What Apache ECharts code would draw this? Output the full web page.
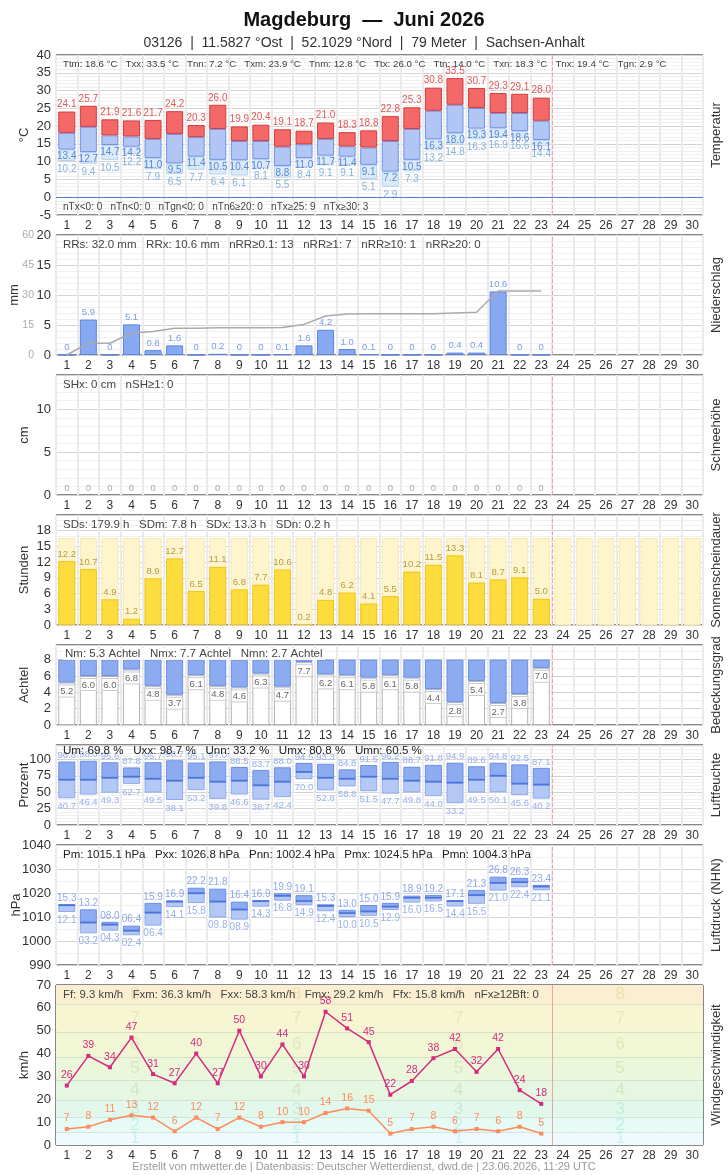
<!DOCTYPE html>
<html><head><meta charset="utf-8">
<script src="https://cdn.jsdelivr.net/npm/echarts@6/dist/echarts.min.js"></script>
<style>html,body{margin:0;padding:0;background:#fff}#c{width:728px;height:1175px}</style>
</head><body><div id="c"></div><script>
// ---------- DATA ----------
const days = ['1','2','3','4','5','6','7','8','9','10','11','12','13','14','15','16','17','18','19','20','21','22','23','24','25','26','27','28','29','30'];
const tMax    = [24.1,25.7,21.9,21.6,21.7,24.2,20.3,26.0,19.9,20.4,19.1,18.7,21.0,18.3,18.8,22.8,25.3,30.8,33.5,30.7,29.3,29.1,28.0];
const tMean   = [18.1,19.8,17.4,17.1,16.4,17.8,16.9,19.2,15.8,15.8,14.2,14.9,16.4,14.3,14.0,15.8,19.2,24.3,26.0,25.1,23.7,23.7,21.5];
const tMin    = [13.4,12.7,14.7,14.2,11.0,9.5,11.4,10.5,10.4,10.7,8.8,11.0,11.7,11.4,9.1,7.2,10.5,16.3,18.0,19.3,19.4,18.6,16.1];
const tGround = [10.2,9.4,10.5,12.2,7.9,6.5,7.7,6.4,6.1,8.1,5.5,8.4,9.1,9.1,5.1,2.9,7.3,13.2,14.8,16.3,16.9,16.6,14.4];
const precip  = [0,5.9,0,5.1,0.8,1.6,0,0.2,0,0,0.1,1.6,4.2,1.0,0.1,0,0,0,0.4,0.4,10.6,0,0];
const snow    = [0,0,0,0,0,0,0,0,0,0,0,0,0,0,0,0,0,0,0,0,0,0,0];
const sun     = [12.2,10.7,4.9,1.2,8.9,12.7,6.5,11.1,6.8,7.7,10.6,0.2,4.8,6.2,4.1,5.5,10.2,11.5,13.3,8.1,8.7,9.1,5.0];
const sunPossible = [16.6,16.6,16.6,16.6,16.6,16.6,16.6,16.6,16.6,16.6,16.6,16.6,16.6,16.6,16.6,16.6,16.6,16.6,16.6,16.6,16.6,16.6,16.6,16.6,16.6,16.6,16.6,16.6,16.6,16.6];
const cloud   = [5.2,6.0,6.0,6.8,4.8,3.7,6.1,4.8,4.6,6.3,4.7,7.7,6.2,6.1,5.8,6.1,5.8,4.4,2.8,5.4,2.7,3.8,7.0];
const humMax  = [96.8,98.0,95.6,87.8,95.7,98.7,95.1,97.0,88.5,83.7,88.0,94.5,93.3,84.8,91.5,96.2,88.7,91.8,94.9,89.6,94.8,92.5,87.1];
const humMean = [69.0,69.0,72.0,73.6,70.5,67.5,72.0,66.0,67.5,60.5,66.0,80.8,72.0,70.5,73.6,70.5,67.5,66.0,64.5,69.0,75.0,63.0,61.5];
const humMin  = [40.7,46.4,49.3,62.7,49.5,38.1,53.2,39.8,46.6,38.7,42.4,70.0,52.8,58.8,51.5,47.7,49.8,44.0,33.2,49.5,50.1,45.6,40.2];
const presMax = [1015.3,1013.2,1008.0,1006.4,1015.9,1016.9,1022.2,1021.8,1016.4,1016.9,1019.9,1019.1,1015.3,1013.0,1015.0,1015.9,1018.9,1019.2,1017.1,1021.3,1026.8,1026.3,1023.4];
const presMean= [1014.9,1007.7,1006.8,1004.3,1011.8,1016.4,1019.9,1016.4,1013.1,1016.6,1018.8,1016.6,1014.6,1011.6,1012.3,1014.3,1018.0,1018.0,1016.6,1019.1,1024.2,1024.5,1022.7];
const presMin = [1012.1,1003.2,1004.3,1002.4,1006.4,1014.1,1015.8,1009.8,1008.9,1014.3,1016.8,1014.9,1012.4,1010.0,1010.5,1012.9,1016.0,1016.5,1014.4,1015.5,1021.0,1022.4,1021.1];
const gust    = [26,39,34,47,31,27,40,27,50,30,44,30,58.3,51,45,22,28,38,42,32,42,24,18];
const windMean= [7,8,11,13,12,6,12,7,12,8,10,10,14,16,15,5,7,8,6,7,6,8,5];
const beaufortEdges = [0,5.5,12,19.5,28.5,38.5,49.5,61.5,70];
const beaufortNumbers = ['1','2','3','4','5','6','7','8'];
const beaufortLabelX = [3.66,11.16,18.66,26.16];
const lastDay = 23;

const statsTemp = 'Ttm: 18.6 °C   Txx: 33.5 °C   Tnn: 7.2 °C   Txm: 23.9 °C   Tnm: 12.8 °C   Ttx: 26.0 °C   Ttn: 14.0 °C   Txn: 18.3 °C   Tnx: 19.4 °C   Tgn: 2.9 °C';
const statsTemp2 = 'nTx<0: 0   nTn<0: 0   nTgn<0: 0   nTn6≥20: 0   nTx≥25: 9   nTx≥30: 3';
const statsPrec = 'RRs: 32.0 mm   RRx: 10.6 mm   nRR≥0.1: 13   nRR≥1: 7   nRR≥10: 1   nRR≥20: 0';
const statsSnow = 'SHx: 0 cm   nSH≥1: 0';
const statsSun = 'SDs: 179.9 h   SDm: 7.8 h   SDx: 13.3 h   SDn: 0.2 h';
const statsCloud = 'Nm: 5.3 Achtel   Nmx: 7.7 Achtel   Nmn: 2.7 Achtel';
const statsHum = 'Um: 69.8 %   Uxx: 98.7 %   Unn: 33.2 %   Umx: 80.8 %   Umn: 60.5 %';
const statsPres = 'Pm: 1015.1 hPa   Pxx: 1026.8 hPa   Pnn: 1002.4 hPa   Pmx: 1024.5 hPa   Pmn: 1004.3 hPa';
const statsWind = 'Ff: 9.3 km/h   Fxm: 36.3 km/h   Fxx: 58.3 km/h   Fmx: 29.2 km/h   Ffx: 15.8 km/h   nFx≥12Bft: 0';

// ---------- LAYOUT ----------
const NARROW = '"Liberation Sans Narrow","Liberation Sans",Arial,sans-serif';
const SANS = '"Liberation Sans",Arial,sans-serif';
const L = 56, W = 647;
const panels = [
  {top:55,h:160,ymin:-5,ymax:40,iv:5,minor:5,name:'°C',gap:25,right:'Temperatur',maxLbl:true},
  {top:235,h:120,ymin:0,ymax:20,iv:5,minor:5,name:'mm',gap:35,right:'Niederschlag',maxLbl:true},
  {top:375,h:120,ymin:0,ymax:14,iv:5,minor:5,name:'cm',gap:25,right:'Schneehöhe',maxLbl:false},
  {top:515,h:110,ymin:0,ymax:21,iv:3,minor:3,name:'Stunden',gap:25,right:'Sonnenscheindauer',maxLbl:false},
  {top:645,h:80,ymin:0,ymax:9.8,iv:2,minor:2,name:'Achtel',gap:25,right:'Bedeckungsgrad',maxLbl:false},
  {top:745,h:80,ymin:0,ymax:122,iv:25,minor:5,name:'Prozent',gap:25,right:'Luftfeuchte',maxLbl:false},
  {top:845,h:120,ymin:990,ymax:1040,iv:10,minor:2,name:'hPa',gap:33,right:'Luftdruck (NHN)',maxLbl:true},
  {top:985,h:160,ymin:0,ymax:70,iv:10,minor:2,name:'km/h',gap:25,right:'Windgeschwindigkeit',maxLbl:true}
];
const grid=[], xAxis=[], yAxis=[], series=[], graphic=[];
const yIdx = [];
panels.forEach((p,i)=>{
  grid.push({left:L, top:p.top, width:W, height:p.h, show:true, borderColor:'#111', borderWidth:1, backgroundColor:'transparent', outerBoundsMode:'none'});
  xAxis.push({gridIndex:i, type:'category', data:days, boundaryGap:true,
    axisLine:{show:false}, axisTick:{show:false},
    axisLabel:{interval:0, fontSize:12, color:'#333', margin:5, fontFamily:SANS},
    splitLine:{show:true, interval:0, lineStyle:{color: i===7 ? 'rgba(140,140,140,0.28)' : '#ebebeb', width:2}}});
  xAxis.push({gridIndex:i, type:'value', min:0, max:30, show:false});
  yIdx.push(yAxis.length);
  yAxis.push({gridIndex:i, type:'value', min:p.ymin, max:p.ymax, interval:p.iv,
    axisLine:{show:false}, axisTick:{show:false},
    axisLabel:{fontSize:13, color:'#333', margin:5, fontFamily:NARROW, showMaxLabel:p.maxLbl, formatter:v=>String(v)},
    splitLine:{show:true, lineStyle:{color: i===7 ? 'rgba(140,140,140,0.3)' : '#d4d4d4'}},
    minorTick:{show:false, splitNumber:p.minor},
    minorSplitLine:{show:true, lineStyle:{color: i===7 ? 'rgba(140,140,140,0.12)' : '#f0f0f0'}},
    name:p.name, nameLocation:'middle', nameGap:p.gap, nameRotate:90, nameMoveOverlap:false,
    nameTextStyle:{fontSize:13, color:'#333', fontFamily:SANS}});
  yAxis.push({gridIndex:i, type:'value', min:0, max:1, position:'right',
    axisLine:{show:false}, axisTick:{show:false}, axisLabel:{show:false}, splitLine:{show:false},
    name:p.right, nameLocation:'middle', nameGap:7, nameRotate:90, nameMoveOverlap:false,
    nameTextStyle:{fontSize:13, color:'#333', fontFamily:SANS}});
  series.push({type:'scatter', xAxisIndex:2*i+1, yAxisIndex:yIdx[i], data:[], silent:true, z:6,
    markLine:{symbol:'none', silent:true, animation:false, label:{show:false},
      lineStyle:{color:'#f2a2a2', type: i===7 ? 'solid':'dashed', width:1}, data:[{xAxis:lastDay}]}});
});
const cat = i => 2*i;

function stat(i, txt, dy, opts={}) {
  graphic.push({type:'text', left:L+7, top:panels[i].top+dy, z:50,
    style:Object.assign({text:txt, fontSize:9.7, fill:'#444', fontFamily:SANS}, opts)});
}
stat(0, statsTemp, 4);
stat(0, statsTemp2, 147, {fontSize:10});
stat(1, statsPrec, 4, {fontSize:11.5, fontFamily:NARROW});
stat(2, statsSnow, 4, {fontSize:11.5, fontFamily:NARROW});
stat(3, statsSun, 4, {fontSize:11.5, fontFamily:NARROW});
stat(4, statsCloud, 3, {fontSize:11.5, fontFamily:NARROW, backgroundColor:'rgba(255,255,255,0.85)', padding:[0,2]});
stat(5, statsHum, 0, {fontSize:11.6, fontFamily:NARROW, fill:'#222'});
stat(6, statsPres, 4, {fontSize:11.5, fontFamily:NARROW, fill:'#222'});
stat(7, statsWind, 4, {fontSize:11.4, fontFamily:SANS, fill:'#444'});

graphic.push({type:'text', left:'center', top:1161, style:{text:'Erstellt von mtwetter.de | Datenbasis: Deutscher Wetterdienst, dwd.de | 23.06.2026, 11:29 UTC', fontSize:11, fill:'#999', fontFamily:SANS}});

const BW = 17;
const fmt1 = v => v.toFixed(1);

// ---- Temperature ----
series.push({type:'bar', stack:'t', xAxisIndex:cat(0), yAxisIndex:yIdx[0], barWidth:BW,
  data:tGround, itemStyle:{color:'transparent'},
  label:{show:true, position:'insideTop', distance:3, fontSize:10, color:'#87b3dc', fontFamily:SANS, formatter:p=>fmt1(tGround[p.dataIndex])}});
series.push({type:'bar', stack:'t', xAxisIndex:cat(0), yAxisIndex:yIdx[0], barWidth:BW,
  data:tMin.map((v,k)=>+(v-tGround[k]).toFixed(2)), itemStyle:{color:'#dbeaf9', borderColor:'#b5d3f1', borderWidth:1},
  label:{show:true, position:'insideTop', distance:2, fontSize:10, color:'#5a86d6', fontFamily:SANS, formatter:p=>fmt1(tMin[p.dataIndex])}});
series.push({type:'bar', stack:'t', xAxisIndex:cat(0), yAxisIndex:yIdx[0], barWidth:BW,
  data:tMean.map((v,k)=>+(v-tMin[k]).toFixed(2)), itemStyle:{color:'#b1c6f4', borderColor:'#6f93e6', borderWidth:1}});
series.push({type:'bar', stack:'t', xAxisIndex:cat(0), yAxisIndex:yIdx[0], barWidth:BW,
  data:tMax.map((v,k)=>+(v-tMean[k]).toFixed(2)), itemStyle:{color:'#f56868', borderColor:'#d43c3c', borderWidth:1},
  label:{show:true, position:'top', distance:2, fontSize:10, color:'#e05a5a', fontFamily:SANS, formatter:p=>fmt1(tMax[p.dataIndex])}});
series.push({type:'scatter', xAxisIndex:1, yAxisIndex:yIdx[0], data:[], silent:true, z:1,
  markLine:{symbol:'none', silent:true, label:{show:false}, lineStyle:{color:'#4f82d2', type:'solid', width:1.2}, data:[{yAxis:0}]}});

// ---- Precipitation ----
const precSecIdx = yAxis.length;
yAxis.push({gridIndex:1, type:'value', min:0, max:60, interval:15, position:'left', offset:17,
  axisLine:{show:false}, axisTick:{show:false}, splitLine:{show:false},
  axisLabel:{fontSize:10.5, color:'#aaa', margin:5, fontFamily:NARROW}});
series.push({type:'bar', xAxisIndex:cat(1), yAxisIndex:yIdx[1], barWidth:BW, data:precip,
  itemStyle:{color:'#87a9f1', borderColor:'#5a83e2', borderWidth:1},
  label:{show:true, position:'top', distance:2, fontSize:9.5, color:'#7b9de6', fontFamily:SANS, formatter:p=> p.value===0?'0':fmt1(p.value)}});
let acc=0; const precipCum = precip.map(v=>(acc=+(acc+v).toFixed(1)));
series.push({type:'line', xAxisIndex:cat(1), yAxisIndex:precSecIdx, data:precipCum, symbol:'none',
  lineStyle:{color:'#aaaaaa', width:1.5}, z:3});

// ---- Snow ----
series.push({type:'bar', xAxisIndex:cat(2), yAxisIndex:yIdx[2], barWidth:BW, data:snow,
  itemStyle:{color:'#cfe0f5'},
  label:{show:true, position:'top', distance:2, fontSize:9.5, color:'#aaa', fontFamily:SANS, formatter:p=>String(p.value)}});

// ---- Sunshine ----
series.push({type:'bar', xAxisIndex:cat(3), yAxisIndex:yIdx[3], barWidth:BW, barGap:'-100%', data:sunPossible,
  itemStyle:{color:'#fff5cc', borderColor:'#f8e9ad', borderWidth:1}, silent:true});
series.push({type:'bar', xAxisIndex:cat(3), yAxisIndex:yIdx[3], barWidth:BW, barGap:'-100%', data:sun,
  itemStyle:{color:'#fddd3d', borderColor:'#f1c515', borderWidth:1},
  label:{show:true, position:'top', distance:2, fontSize:9.5, color:'#b59b46', fontFamily:SANS, formatter:p=>fmt1(p.value)}});

// ---- Cloud ----
series.push({type:'bar', stack:'n', xAxisIndex:cat(4), yAxisIndex:yIdx[4], barWidth:BW, data:cloud,
  itemStyle:{color:'#ffffff', borderColor:'#b5b5b5', borderWidth:1},
  label:{show:true, position:'insideTop', distance:3, fontSize:9.5, color:'#666', fontFamily:SANS,
    backgroundColor:'#fff', borderColor:'#ccc', borderWidth:1, padding:[1,1,0,1], formatter:p=>fmt1(p.value)}});
series.push({type:'bar', stack:'n', xAxisIndex:cat(4), yAxisIndex:yIdx[4], barWidth:BW,
  data:cloud.map(v=>+(8-v).toFixed(2)), itemStyle:{color:'#8cabf0', borderColor:'#6a8fe6', borderWidth:1}});

// ---- Humidity ----
series.push({type:'bar', stack:'u', xAxisIndex:cat(5), yAxisIndex:yIdx[5], barWidth:BW, data:humMin,
  itemStyle:{color:'transparent'},
  label:{show:true, position:'insideTop', distance:3, fontSize:9.5, color:'#98b1ec', fontFamily:SANS, formatter:p=>fmt1(p.value)}});
series.push({type:'bar', stack:'u', xAxisIndex:cat(5), yAxisIndex:yIdx[5], barWidth:BW,
  data:humMean.map((v,k)=>+(v-humMin[k]).toFixed(2)), itemStyle:{color:'#b3c8f5', borderColor:'#8eaaee', borderWidth:1}});
series.push({type:'bar', stack:'u', xAxisIndex:cat(5), yAxisIndex:yIdx[5], barWidth:BW,
  data:humMax.map((v,k)=>+(v-humMean[k]).toFixed(2)), itemStyle:{color:'#8dabf0', borderColor:'#6a8fe6', borderWidth:1},
  label:{show:true, position:'top', distance:1, fontSize:9.5, color:'#98b1ec', fontFamily:SANS, formatter:p=>fmt1(humMax[p.dataIndex])}});
series.push({type:'scatter', xAxisIndex:cat(5), yAxisIndex:yIdx[5], data:humMean, symbol:'rect', symbolSize:[BW,1.6],
  itemStyle:{color:'#3f68d6'}, z:4, silent:true});

// ---- Pressure ----
const pfmt = v => (v % 100).toFixed(1).padStart(4,'0');
series.push({type:'bar', stack:'p', xAxisIndex:cat(6), yAxisIndex:yIdx[6], barWidth:BW, data:presMin,
  itemStyle:{color:'transparent'},
  label:{show:true, position:'insideTop', distance:3, fontSize:10, color:'#98b1ec', fontFamily:SANS, formatter:p=>pfmt(p.value)}});
series.push({type:'bar', stack:'p', xAxisIndex:cat(6), yAxisIndex:yIdx[6], barWidth:BW,
  data:presMean.map((v,k)=>+(v-presMin[k]).toFixed(2)), itemStyle:{color:'#b3c8f5', borderColor:'#8eaaee', borderWidth:1}});
series.push({type:'bar', stack:'p', xAxisIndex:cat(6), yAxisIndex:yIdx[6], barWidth:BW,
  data:presMax.map((v,k)=>+(v-presMean[k]).toFixed(2)), itemStyle:{color:'#8dabf0', borderColor:'#6a8fe6', borderWidth:1},
  label:{show:true, position:'top', distance:1, fontSize:10, color:'#8ea8ec', fontFamily:SANS, formatter:p=>pfmt(presMax[p.dataIndex])}});
series.push({type:'scatter', xAxisIndex:cat(6), yAxisIndex:yIdx[6], data:presMean, symbol:'rect', symbolSize:[BW,1.6],
  itemStyle:{color:'#3f68d6'}, z:4, silent:true});

// ---- Wind ----
const bandColors = ['#eefafd','#e6faf6','#e3f8ec','#e5f7e0','#ebf7da','#f1f7d5','#f6f6d3','#faefd0'];
const numColors  = ['#c0eef3','#b9ede3','#bfe9cf','#c6e6bd','#d0e5b6','#dce5b2','#e3e2ad','#eadcaa'];
series.push({type:'scatter', xAxisIndex:15, yAxisIndex:yIdx[7], silent:true, z:-1, data:[],
  markArea:{silent:true, data: beaufortNumbers.map((n,k)=>[{yAxis:beaufortEdges[k], itemStyle:{color:bandColors[k]}},{yAxis:beaufortEdges[k+1]}])},
  markLine:{symbol:'none', silent:true, label:{show:false}, lineStyle:{color:'rgba(140,170,140,0.25)', type:'solid', width:1},
    data: beaufortEdges.slice(1,-1).map(e=>({yAxis:e}))}});
series.push({type:'scatter', xAxisIndex:15, yAxisIndex:yIdx[7], silent:true, z:1, symbolSize:2,
  itemStyle:{color:'rgba(0,0,0,0)'},
  data: beaufortLabelX.flatMap(x => beaufortNumbers.map((n,k)=>({value:[x, (beaufortEdges[k]+beaufortEdges[k+1])/2], name:n,
    label:{color:numColors[k]}}))),
  label:{show:true, position:'inside', fontSize:17, fontFamily:SANS, formatter:p=>p.name}});
series.push({type:'line', xAxisIndex:cat(7), yAxisIndex:yIdx[7], data:gust, symbol:'rect', symbolSize:4,
  lineStyle:{color:'#d62a7e', width:1.5}, itemStyle:{color:'#d62a7e'}, z:5,
  label:{show:true, position:'top', distance:3, fontSize:10.5, color:'#d62a7e', fontFamily:SANS, formatter:p=>String(Math.round(p.value))}});
series.push({type:'line', xAxisIndex:cat(7), yAxisIndex:yIdx[7], data:windMean, symbol:'rect', symbolSize:4,
  lineStyle:{color:'#ff8a5c', width:1.5}, itemStyle:{color:'#ff8a5c'}, z:5,
  label:{show:true, position:'top', distance:3, fontSize:10.5, color:'#ff8a5c', fontFamily:SANS, formatter:p=>String(Math.round(p.value))}});

const chart = echarts.init(document.getElementById('c'), null, {renderer:'canvas'});
chart.setOption({
  animation:false,
  backgroundColor:'#fff',
  title:{text:'Magdeburg  —  Juni 2026', subtext:'03126  |  11.5827 °Ost  |  52.1029 °Nord  |  79 Meter  |  Sachsen-Anhalt',
    left:'center', top:5, itemGap:6,
    textStyle:{fontSize:20, fontWeight:'bold', color:'#111', fontFamily:NARROW},
    subtextStyle:{fontSize:14, color:'#333', fontFamily:NARROW}},
  grid, xAxis, yAxis, series, graphic
});
</script></body></html>
